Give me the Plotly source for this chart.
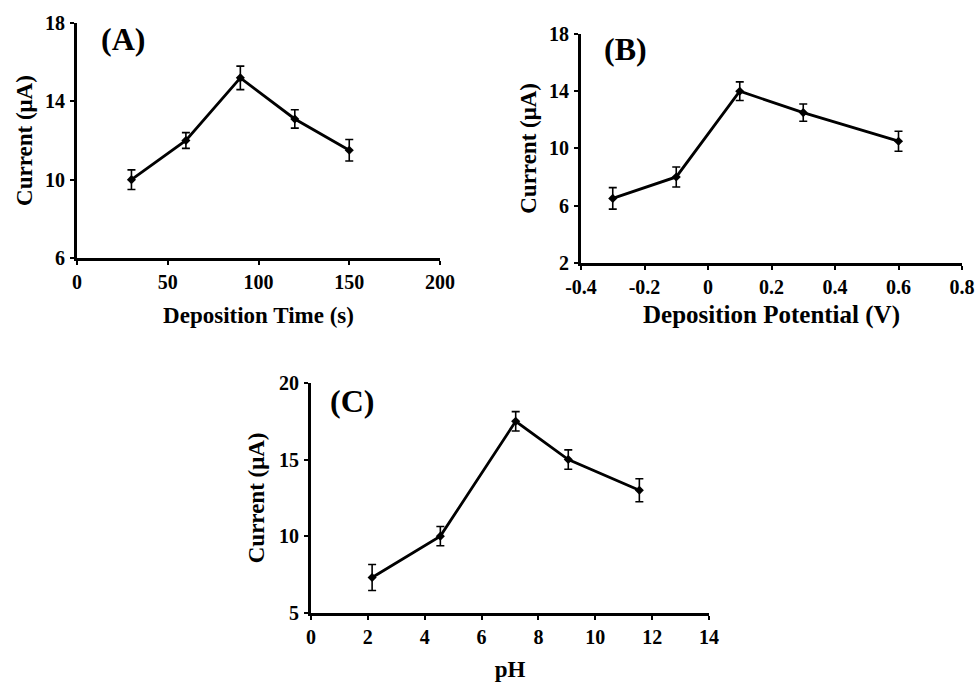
import plotly.graph_objects as go

# ---- data ----
time_s = [30, 60, 90, 120, 150]
current_a = [10.0, 12.0, 15.2, 13.1, 11.5]
err_a = [0.5, 0.4, 0.6, 0.47, 0.55]

potential_v = [-0.3, -0.1, 0.1, 0.3, 0.6]
current_b = [6.5, 8.0, 14.0, 12.5, 10.5]
err_b = [0.75, 0.7, 0.65, 0.6, 0.7]

ph = [2.15, 4.55, 7.2, 9.05, 11.55]
current_c = [7.3, 10.0, 17.5, 15.0, 13.0]
err_c = [0.85, 0.63, 0.63, 0.63, 0.75]

ticks_a_x = [0, 50, 100, 150, 200]
ticks_a_y = [6, 10, 14, 18]
ticks_b_x = [-0.4, -0.2, 0, 0.2, 0.4, 0.6, 0.8]
labels_b_x = ["-0.4", "-0.2", "0", "0.2", "0.4", "0.6", "0.8"]
ticks_b_y = [2, 6, 10, 14, 18]
ticks_c_x = [0, 2, 4, 6, 8, 10, 12, 14]
ticks_c_y = [5, 10, 15, 20]

W, H = 979, 684
FONT = "Liberation Serif"


def fx(px):
    return px / W


def fy(py):
    return 1 - py / H


fig = go.Figure()

panels = [
    (time_s, current_a, err_a, "x", "y"),
    (potential_v, current_b, err_b, "x2", "y2"),
    (ph, current_c, err_c, "x3", "y3"),
]
for xs, ys, es, xa, ya in panels:
    fig.add_trace(go.Scatter(
        x=xs, y=ys, mode="lines+markers", xaxis=xa, yaxis=ya,
        line=dict(color="black", width=2.8),
        marker=dict(color="black", size=7, symbol="diamond"),
        error_y=dict(type="data", array=es, visible=True, color="black",
                     thickness=1.6, width=4),
        showlegend=False, hoverinfo="x+y",
    ))

tickfont = dict(family=FONT, size=20, color="black", weight="bold")


def titlefont(size=23):
    return dict(family=FONT, size=size, color="black", weight="bold")


def axis_common():
    return dict(
        showline=True, linecolor="black", linewidth=3, mirror=False,
        ticks="outside", ticklen=4, tickwidth=2, tickcolor="black",
        showgrid=False, zeroline=False, tickfont=tickfont,
        fixedrange=True, automargin=False,
    )


def make_axis(dom, rng, tv, tt, anchor, title, standoff, labstand, tsize=23):
    d = axis_common()
    d.update(domain=dom, range=rng, tickvals=tv, anchor=anchor,
             tickmode="array", ticklabelstandoff=labstand,
             title=dict(text=title, font=titlefont(tsize), standoff=standoff))
    if tt is not None:
        d["ticktext"] = tt
    return d


fig.update_layout(
    width=W, height=H,
    margin=dict(l=0, r=0, t=0, b=0),
    paper_bgcolor="white", plot_bgcolor="white",
    font=dict(family=FONT, color="black"),
    xaxis=make_axis([fx(77), fx(440)], [0, 200], ticks_a_x, None, "y", "Deposition Time (s)", 15, 0),
    yaxis=make_axis([fy(258), fy(23)], [6, 18], ticks_a_y, None, "x", "Current (μA)", 6, 1),
    xaxis2=make_axis([fx(581), fx(962)], [-0.4, 0.8], ticks_b_x, labels_b_x, "y2", "Deposition Potential (V)", 9, 0, 25),
    yaxis2=make_axis([fy(262.7), fy(34)], [2, 18], ticks_b_y, None, "x2", "Current (μA)", 6, 1),
    xaxis3=make_axis([fx(311), fx(709)], [0, 14], ticks_c_x, None, "y3", "pH", 15, 0),
    yaxis3=make_axis([fy(612.7), fy(383)], [5, 20], ticks_c_y, None, "x3", "Current (μA)", 8, 1),
)

labels = [("(A)", 123, 39), ("(B)", 625, 49), ("(C)", 352, 401)]
for txt, px, py in labels:
    fig.add_annotation(text=txt, x=fx(px), y=fy(py), xref="paper", yref="paper",
                       showarrow=False, font=dict(family=FONT, size=32, color="black", weight="bold"),
                       xanchor="center", yanchor="middle")

fig.write_html(
    "out.html",
    config={"displayModeBar": False},
    post_script="document.body.style.margin='0';document.body.style.overflow='hidden';",
)
